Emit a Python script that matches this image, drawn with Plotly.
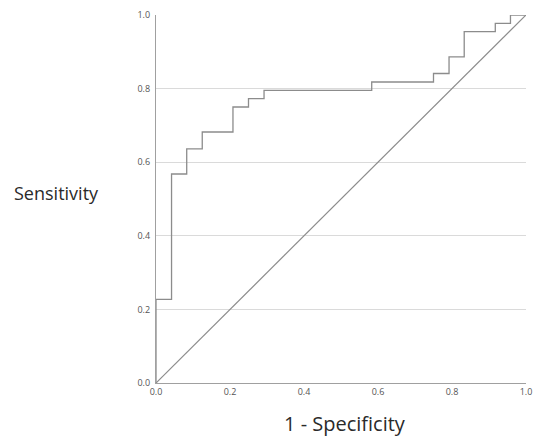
import plotly.graph_objects as go

# ROC curve corner points (1 - specificity, sensitivity)
fpr = [0.0, 0.0, 0.042, 0.042, 0.083, 0.083, 0.125, 0.125, 0.208, 0.208,
       0.25, 0.25, 0.292, 0.292, 0.583, 0.583, 0.75, 0.75, 0.792, 0.792,
       0.833, 0.833, 0.917, 0.917, 0.958, 0.958, 1.0]
tpr = [0.0, 0.227, 0.227, 0.568, 0.568, 0.636, 0.636, 0.682, 0.682, 0.75,
       0.75, 0.773, 0.773, 0.795, 0.795, 0.818, 0.818, 0.841, 0.841, 0.886,
       0.886, 0.955, 0.955, 0.977, 0.977, 1.0, 1.0]

# reference line
diag_x = [0.0, 1.0]
diag_y = [0.0, 1.0]

tick_vals = [0.0, 0.2, 0.4, 0.6, 0.8, 1.0]
tick_text = ["0.0", "0.2", "0.4", "0.6", "0.8", "1.0"]

fig = go.Figure()
fig.add_trace(go.Scatter(x=diag_x, y=diag_y, mode="lines",
                         line=dict(color="#8c8c8c", width=1.2),
                         hoverinfo="skip", showlegend=False))
fig.add_trace(go.Scatter(x=fpr, y=tpr, mode="lines",
                         line=dict(color="#8c8c8c", width=1.3),
                         showlegend=False))

fig.update_layout(
    width=536, height=436,
    margin=dict(l=156, r=10, t=15, b=53),
    paper_bgcolor="white", plot_bgcolor="white",
    font=dict(family="Open Sans", color="#333"),
    xaxis=dict(range=[0, 1], tickvals=tick_vals, ticktext=tick_text,
               showgrid=False, zeroline=False, showline=True,
               linecolor="#a0a0a0", linewidth=1.2, ticks="",
               automargin=False,
               tickfont=dict(size=9, color="#555"), fixedrange=True),
    yaxis=dict(range=[0, 1], tickvals=tick_vals, ticktext=tick_text,
               showgrid=True, gridcolor="#dadada", gridwidth=1,
               zeroline=False, showline=True, linecolor="#a0a0a0",
               linewidth=1.2, ticks="", ticklabelstandoff=3,
               automargin=False,
               tickfont=dict(size=9, color="#555"), fixedrange=True),
    annotations=[
        dict(text="Sensitivity", xref="paper", yref="paper",
             x=(56 - 156) / 370, y=(383 - 193) / 368,
             xanchor="center", yanchor="middle", showarrow=False,
             font=dict(size=18, color="#2a2a2a", family="Open Sans")),
        dict(text="1 - Specificity", xref="paper", yref="paper",
             x=(345 - 156) / 370, y=(383 - 424) / 368,
             xanchor="center", yanchor="middle", showarrow=False,
             font=dict(size=20, color="#2a2a2a", family="Open Sans")),
    ],
)

fig.write_html("out.html")
